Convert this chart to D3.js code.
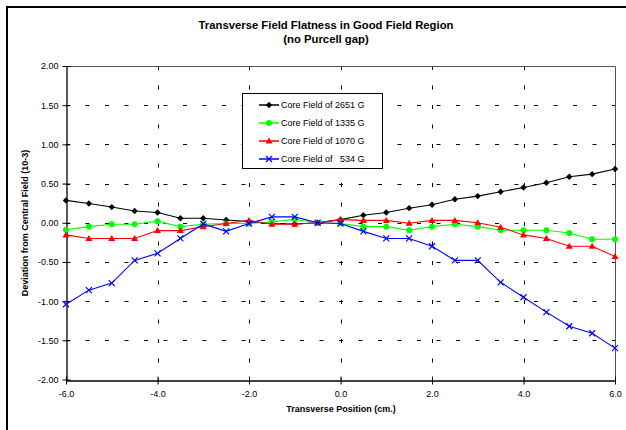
<!DOCTYPE html>
<html><head><meta charset="utf-8">
<script src="https://cdn.jsdelivr.net/npm/d3@7"></script>
<style>
body{margin:0;background:#fff;}
svg{display:block;font-family:Arial,"Liberation Sans",sans-serif;}
</style></head>
<body>
<svg id="chart" width="626" height="430"></svg>
<script>
const positions = [-6,-5.5,-5,-4.5,-4,-3.5,-3,-2.5,-2,-1.5,-1,-0.5,0,0.5,1,1.5,2,2.5,3,3.5,4,4.5,5,5.5,6];
const core2651 = [0.285,0.246,0.20,0.15,0.13,0.058,0.058,0.036,0.015,-0.01,-0.015,0.0,0.04,0.096,0.13,0.186,0.23,0.30,0.34,0.395,0.45,0.51,0.587,0.62,0.686];
const core1335 = [-0.09,-0.05,-0.02,-0.02,0.02,-0.05,-0.02,-0.01,-0.01,0.01,0.045,0.0,-0.01,-0.05,-0.05,-0.096,-0.05,-0.02,-0.05,-0.096,-0.096,-0.096,-0.13,-0.21,-0.21];
const core1070 = [-0.155,-0.20,-0.20,-0.20,-0.10,-0.10,-0.05,-0.01,0.03,-0.02,-0.02,0.0,0.04,0.03,0.03,-0.006,0.03,0.03,0.0,-0.058,-0.155,-0.20,-0.30,-0.30,-0.43];
const core534 = [-1.04,-0.86,-0.77,-0.48,-0.39,-0.20,-0.015,-0.11,-0.01,0.075,0.075,0.0,-0.01,-0.11,-0.20,-0.20,-0.30,-0.48,-0.48,-0.76,-0.95,-1.14,-1.32,-1.41,-1.60];
const seriesNames = ["Core Field of 2651 G","Core Field of 1335 G","Core Field of 1070 G","Core Field of   534 G"];
const xTicks = [-6,-4,-2,0,2,4,6];
const yTicks = [-2,-1.5,-1,-0.5,0,0.5,1,1.5,2];
const titleLines = ["Transverse Field Flatness in Good Field Region","(no Purcell gap)"];
const xTitle = "Transverse Position (cm.)";
const yTitle = "Deviation from Central Field (10-3)";

const series = [
  {name: seriesNames[0], values: core2651, color: "#000000", marker: "diamond"},
  {name: seriesNames[1], values: core1335, color: "#00ff00", marker: "circle"},
  {name: seriesNames[2], values: core1070, color: "#ff0000", marker: "triangle"},
  {name: seriesNames[3], values: core534, color: "#0000ff", marker: "x"}
];

const svg = d3.select("#chart");
svg.append("rect").attr("x",7).attr("y",7).attr("width",640).attr("height",440)
  .attr("fill","#fff").attr("stroke","#000").attr("stroke-width",2);

const x = d3.scaleLinear().domain([-6,6]).range([66,615]);
const y = d3.scaleLinear().domain([-2,2]).range([379.5,66]);

// gridlines
const grid = svg.append("g");
grid.selectAll("line.h").data(yTicks.filter(d=>d>-2 && d<2)).join("line")
  .attr("x1",x(-6)).attr("x2",x(6)).attr("y1",d=>Math.round(y(d))+0.5).attr("y2",d=>Math.round(y(d))+0.5)
  .attr("stroke","#000").attr("stroke-dasharray","4,15.5");
grid.selectAll("line.v").data(xTicks.filter(d=>d>-6 && d<6)).join("line")
  .attr("x1",d=>Math.round(x(d))+0.5).attr("x2",d=>Math.round(x(d))+0.5).attr("y1",y(2)).attr("y2",y(-2))
  .attr("stroke","#000").attr("stroke-dasharray","4,15.5");

// plot border (top/right)
svg.append("path").attr("d",`M${x(-6)},${Math.round(y(2))+0.5}H${Math.round(x(6))+0.5}V${y(-2)}`)
  .attr("fill","none").attr("stroke","#555").attr("stroke-width",1);

// axes
const yAxis = svg.append("g").attr("transform",`translate(${Math.round(x(-6))+0.5},0)`)
  .call(d3.axisLeft(y).tickValues(yTicks).tickFormat(d=>d.toFixed(2)).tickSizeInner(4).tickSizeOuter(0).tickPadding(4));
yAxis.selectAll(".tick line").attr("x1",4);
yAxis.select(".domain").attr("stroke","#000").attr("stroke-width",1.3);
yAxis.selectAll("text").attr("font-size","9px").attr("font-family","Arial, 'Liberation Sans', sans-serif").attr("fill","#000");

const xAxis = svg.append("g").attr("transform",`translate(0,${Math.round(y(-2))+0.5})`)
  .call(d3.axisBottom(x).tickValues(xTicks).tickFormat(d=>d.toFixed(1)).tickSizeInner(4).tickSizeOuter(0).tickPadding(6));
xAxis.selectAll(".tick line").attr("y1",-4);
xAxis.select(".domain").attr("stroke","#000").attr("stroke-width",1.3);
xAxis.selectAll("text").attr("font-size","9px").attr("font-family","Arial, 'Liberation Sans', sans-serif").attr("fill","#000");

// series
const line = d3.line().x((d,i)=>x(positions[i])).y(d=>y(d));
function drawMarker(g, type, color, cx, cy){
  if(type==="diamond"){
    g.append("path").attr("d",`M${cx},${cy-3.2}L${cx+3.2},${cy}L${cx},${cy+3.2}L${cx-3.2},${cy}Z`).attr("fill",color);
  } else if(type==="circle"){
    g.append("circle").attr("cx",cx).attr("cy",cy).attr("r",3).attr("fill",color);
  } else if(type==="triangle"){
    g.append("path").attr("d",`M${cx},${cy-3.5}L${cx+3.5},${cy+2.5}L${cx-3.5},${cy+2.5}Z`).attr("fill",color);
  } else {
    g.append("path").attr("d",`M${cx-3},${cy-3}L${cx+3},${cy+3}M${cx-3},${cy+3}L${cx+3},${cy-3}`).attr("stroke",color).attr("stroke-width",1.2);
  }
}
series.forEach(s=>{
  const g = svg.append("g");
  g.append("path").datum(s.values).attr("d",line).attr("fill","none").attr("stroke",s.color).attr("stroke-width",1.1);
  s.values.forEach((v,i)=>drawMarker(g, s.marker, s.color, x(positions[i]), y(v)));
});

// legend
const lg = svg.append("g");
lg.append("rect").attr("x",242.5).attr("y",93.5).attr("width",140).attr("height",75)
  .attr("fill","#fff").attr("stroke","#000").attr("stroke-width",1);
series.forEach((s,i)=>{
  const ly = 105 + i*18;
  lg.append("line").attr("x1",259).attr("x2",279).attr("y1",ly).attr("y2",ly).attr("stroke",s.color).attr("stroke-width",1.5);
  drawMarker(lg, s.marker, s.color, 269, ly);
  lg.append("text").attr("x",281).attr("y",ly+3.2).attr("font-size","9px").style("white-space","pre").attr("fill","#000").text(s.name);
});

// titles
svg.append("g").selectAll("text").data(titleLines).join("text")
  .attr("x",326).attr("y",(d,i)=>29+i*14).attr("text-anchor","middle")
  .attr("font-size","11.3px").attr("font-weight","bold").attr("fill","#000").text(d=>d);
svg.append("text").attr("x",341).attr("y",412).attr("text-anchor","middle")
  .attr("font-size","9px").attr("font-weight","bold").attr("fill","#000").text(xTitle);
svg.append("text").attr("transform","translate(28,223) rotate(-90)").attr("text-anchor","middle")
  .attr("font-size","9px").attr("font-weight","bold").attr("fill","#000").text(yTitle);
</script>
</body></html>
